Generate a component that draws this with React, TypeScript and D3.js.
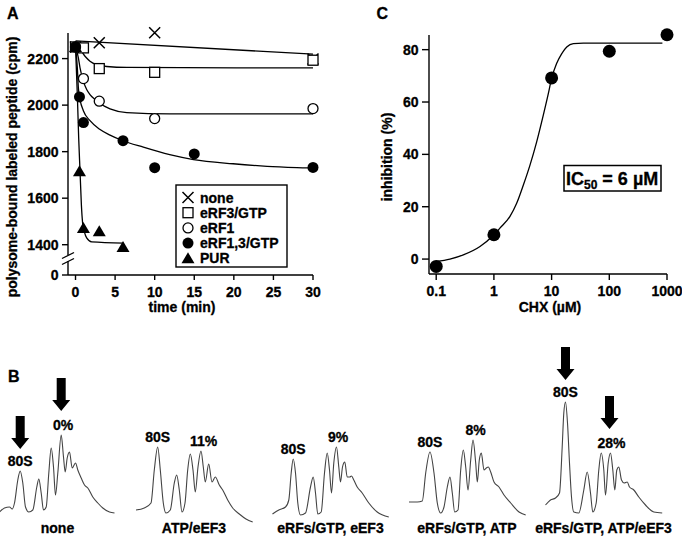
import React from 'react';
import * as d3 from 'd3';

const FONT = '"Liberation Sans", Arial, Helvetica, sans-serif';

// ---------- panel A : polysome-bound labeled peptide vs time ----------
const seriesNames = ['none', 'eRF3/GTP', 'eRF1', 'eRF1,3/GTP', 'PUR'];
const seriesMarks = ['cross', 'square', 'circle', 'dot', 'triangle'];

const ptsNone = [[0, 2250], [3, 2268], [10, 2311], [30, 2198]];
const ptsErf3 = [[0, 2250], [1, 2246], [3, 2157], [10, 2141], [30, 2193]];
const ptsErf1 = [[0, 2250], [1, 2114], [3, 2017], [10, 1942], [30, 1985]];
const ptsErf13 = [[0, 2250], [0.5, 2035], [1, 1925], [6, 1847], [10, 1731], [15, 1790], [30, 1732]];
const ptsPur = [[0, 2250], [0.5, 1716], [1, 1472], [3, 1458], [6, 1390]];

// fitted curves
const fitNone = [[0, 2276], [30, 2219]];
const fitErf3 = [[0, 2252], [0.57, 2239], [1.2, 2210], [1.83, 2189], [2.67, 2174], [3.94, 2166], [6.5, 2162], [30, 2160]];
const fitErf1 = [[0, 2252], [0.36, 2203], [0.57, 2160], [0.99, 2103], [1.41, 2067], [1.83, 2045], [2.46, 2024], [3, 2009], [4.36, 1984], [6.47, 1968], [11.9, 1962], [30, 1962]];
const fitErf13 = [[0, 2252], [0.23, 2160], [0.36, 2074], [0.57, 2024], [0.99, 1976], [1.83, 1933], [3.1, 1895], [4.36, 1871], [5.83, 1849], [8.57, 1819], [11.9, 1787], [14.9, 1766], [19.9, 1748], [24.2, 1737], [29.2, 1730], [30, 1729]];
const fitPur = [[0, 2252], [0.23, 2045], [0.4, 1859], [0.57, 1716], [0.74, 1572], [0.9, 1493], [1.12, 1455], [1.41, 1429], [2.04, 1412], [6.04, 1407]];

const seriesPoints = [ptsNone, ptsErf3, ptsErf1, ptsErf13, ptsPur];
const seriesFits = [fitNone, fitErf3, fitErf1, fitErf13, fitPur];

const timeTicks = [0, 5, 10, 15, 20, 25, 30];
const cpmTicks = [0, 1400, 1600, 1800, 2000, 2200];

// ---------- panel C : inhibition vs CHX ----------
const chxConc = [0.1, 1, 10, 100, 1000];
const chxInhibition = [-2.8, 9.3, 69.2, 79.4, 85.7];
const chxFit = [[0.1, -0.9], [0.173, 0], [0.295, 1.6], [0.574, 4.8], [1, 9.3], [1.27, 11.8], [1.9, 16.3], [2.48, 21.3], [3.24, 28.3], [4.22, 35.9], [5.51, 44.8], [7.18, 55], [8.77, 63.2], [10, 69], [12.2, 74.7], [15, 78.5], [18.3, 81], [23.8, 82.3], [35.5, 82.5], [832, 82.5]];
const chxTicks = [0.1, 1, 10, 100, 1000];
const inhibTicks = [0, 20, 40, 60, 80];

// ---------- panel B : polysome profiles (position along gradient, A254 a.u.) ----------
const profileNames = ['none', 'ATP/eEF3', 'eRFs/GTP, eEF3', 'eRFs/GTP, ATP', 'eRFs/GTP, ATP/eEF3'];
const profNone = [[0, 0.05], [5, 0.09], [10, 0.1], [12.7, 0.08], [15, 0.14], [18.3, 0.37], [20.7, 0.46], [23.3, 0.34], [26, 0.1], [29.3, 0.05], [33.3, 0.07], [37.3, 0.3], [39.3, 0.38], [41.7, 0.24], [44, 0.07], [46.7, 0.1], [49.3, 0.44], [51.7, 0.69], [54, 0.5], [56, 0.22], [58.3, 0.44], [61.7, 0.82], [64, 0.6], [65.7, 0.45], [67.7, 0.59], [70, 0.65], [72.7, 0.49], [76, 0.54], [78.3, 0.47], [81.7, 0.39], [85, 0.32], [88.3, 0.29], [93.3, 0.2], [98.3, 0.14], [103.3, 0.09], [110, 0.05], [115, 0.04]];
const profAtpEef3 = [[0, 0.07], [8.3, 0.09], [15, 0.14], [18.3, 0.47], [21.7, 0.7], [24.3, 0.47], [27.3, 0.14], [30, 0.04], [34.3, 0.07], [38.3, 0.34], [40.7, 0.42], [43.3, 0.27], [46, 0.05], [49, 0.14], [51.7, 0.47], [54.3, 0.63], [57, 0.47], [59.3, 0.25], [62, 0.5], [65, 0.66], [67.3, 0.5], [69.3, 0.35], [72.7, 0.53], [76, 0.35], [79.3, 0.4], [83.3, 0.32], [86.7, 0.27], [91.7, 0.17], [96.7, 0.09], [103.3, 0.03], [110, -0.02], [116.7, -0.05]];
const profErfEef3 = [[0, 0.03], [6.3, 0.07], [13, 0.1], [16.3, 0.17], [18.7, 0.44], [20.7, 0.58], [23, 0.44], [25.3, 0.14], [28, 0.02], [33, 0.04], [38, 0.3], [40.7, 0.4], [43, 0.24], [45.3, 0.03], [48.7, 0.05], [52, 0.44], [54.7, 0.64], [57, 0.47], [59, 0.24], [61.3, 0.54], [64, 0.7], [66.3, 0.5], [68, 0.35], [70, 0.5], [72.3, 0.55], [74.7, 0.4], [77.3, 0.4], [79, 0.41], [81.3, 0.37], [84.7, 0.3], [89.7, 0.24], [96.3, 0.14], [104.7, 0.05], [116.3, 0]];
const profErfAtp = [[0, 0.15], [8.3, 0.15], [13.3, 0.16], [16.7, 0.44], [21, 0.65], [25, 0.44], [28.3, 0.14], [31.7, 0.04], [35, 0.1], [38.3, 0.3], [41, 0.4], [43.3, 0.24], [45.7, 0.05], [49, 0.07], [51.7, 0.47], [54.3, 0.67], [56.7, 0.5], [59, 0.27], [61.7, 0.57], [64, 0.77], [66.7, 0.54], [68.3, 0.35], [70.3, 0.57], [72.3, 0.64], [75, 0.47], [77.3, 0.49], [79.3, 0.5], [81.7, 0.45], [85, 0.35], [90, 0.3], [95, 0.22], [101.7, 0.14], [110, 0.05], [116.7, 0.02]];
const profErfAtpEef3 = [[0, 0.12], [5, 0.17], [10, 0.19], [14, 0.24], [16.7, 0.7], [18.3, 1.04], [20, 1.15], [22, 0.94], [24, 0.54], [26, 0.2], [28.3, 0.05], [33.3, 0.04], [38.3, 0.27], [41.7, 0.45], [45, 0.24], [47.3, 0.05], [50.7, 0.14], [53.3, 0.47], [55.7, 0.64], [58.3, 0.47], [60, 0.22], [62.7, 0.54], [65, 0.64], [67.3, 0.47], [69.3, 0.27], [71.3, 0.47], [73.3, 0.5], [76, 0.37], [78.7, 0.34], [81.7, 0.35], [84, 0.3], [88.3, 0.27], [93.3, 0.2], [100, 0.12], [108.3, 0.05], [116.7, 0.04]];
const profiles = [profNone, profAtpEef3, profErfEef3, profErfAtp, profErfAtpEef3];
const pctLabels = ['0%', '11%', '9%', '8%', '28%'];
const pctPos = [63.7, 67.5, 65.5, 66.5, 66];
const arrowed = [true, false, false, false, true];

function Marker({ kind, x, y }: { kind: string; x: number; y: number }) {
  if (kind === 'cross')
    return <path d={`M${x - 5.5},${y - 5.5}L${x + 5.5},${y + 5.5}M${x - 5.5},${y + 5.5}L${x + 5.5},${y - 5.5}`} stroke="#000" strokeWidth={1.5} />;
  if (kind === 'square')
    return <rect x={x - 5} y={y - 5} width={10} height={10} fill="#fff" stroke="#000" strokeWidth={1.3} />;
  if (kind === 'circle')
    return <circle cx={x} cy={y} r={5} fill="#fff" stroke="#000" strokeWidth={1.3} />;
  if (kind === 'dot')
    return <circle cx={x} cy={y} r={5.5} fill="#000" />;
  return <path d={`M${x},${y - 6}L${x + 6.5},${y + 5}L${x - 6.5},${y + 5}Z`} fill="#000" />;
}

function Arrow({ x, tip }: { x: number; tip: number }) {
  const top = tip - 33;
  const neck = tip - 11;
  return (
    <path
      d={`M${x - 4.5},${top}L${x + 4.5},${top}L${x + 4.5},${neck}L${x + 9},${neck}L${x},${tip}L${x - 9},${neck}L${x - 4.5},${neck}Z`}
      fill="#000"
    />
  );
}

function PanelA() {
  const x = d3.scaleLinear().domain([-1, 30]).range([67.6, 313]);
  const y = d3.scaleLinear().domain([0, 1330, 2310]).range([275, 261, 33]);
  const line = d3.line<number[]>().x((d) => x(d[0])).y((d) => y(d[1])).curve(d3.curveMonotoneX);
  const axX = 68;
  const yBreak = y(1345);
  return (
    <g>
      <text x={7} y={18.5} fontSize={16} fontWeight="bold">A</text>
      {/* axes */}
      <line x1={axX} x2={axX} y1={33} y2={yBreak - 2.5} stroke="#000" strokeWidth={1.4} />
      <line x1={axX} x2={axX} y1={yBreak + 3.5} y2={275} stroke="#000" strokeWidth={1.4} />
      <line x1={62} x2={74} y1={yBreak + 1} y2={yBreak - 5} stroke="#000" strokeWidth={1.3} />
      <line x1={62} x2={74} y1={yBreak + 7} y2={yBreak + 1} stroke="#000" strokeWidth={1.3} />
      <line x1={axX} x2={x(30)} y1={275} y2={275} stroke="#000" strokeWidth={1.4} />
      {cpmTicks.map((t) => (
        <g key={t}>
          <line x1={62} x2={axX} y1={y(t)} y2={y(t)} stroke="#000" strokeWidth={1.4} />
          <text x={58.5} y={y(t) + 5} textAnchor="end" fontSize={14} fontWeight="bold">{t}</text>
        </g>
      ))}
      {timeTicks.map((t) => (
        <g key={t}>
          <line x1={x(t)} x2={x(t)} y1={275} y2={280} stroke="#000" strokeWidth={1.4} />
          <text x={x(t)} y={296.5} textAnchor="middle" fontSize={14} fontWeight="bold">{t}</text>
        </g>
      ))}
      <text x={182} y={312} textAnchor="middle" fontSize={14} fontWeight="bold">time (min)</text>
      <text transform="translate(17,167) rotate(-90)" textAnchor="middle" fontSize={14} fontWeight="bold">
        polysome-bound labeled peptide (cpm)
      </text>
      {/* fits */}
      {seriesFits.map((f, i) => (
        <path key={i} d={line(f) || ''} fill="none" stroke="#000" strokeWidth={1.3} />
      ))}
      {/* points */}
      {seriesPoints.map((pts, i) =>
        pts.map((p, j) => <Marker key={`${i}-${j}`} kind={seriesMarks[i]} x={x(p[0])} y={y(p[1])} />)
      )}
      {/* legend */}
      <rect x={176} y={185} width={111} height={82} fill="#fff" stroke="#000" strokeWidth={1.4} />
      {seriesNames.map((n, i) => (
        <g key={n}>
          <Marker kind={seriesMarks[i]} x={188} y={197.5 + i * 15.2} />
          <text x={200} y={202.5 + i * 15.2} fontSize={14} fontWeight="bold">{n}</text>
        </g>
      ))}
    </g>
  );
}

function PanelC() {
  const x = d3.scaleLog().domain([0.075, 1000]).range([429, 667]);
  const y = d3.scaleLinear().domain([-5.7, 85.6]).range([274, 35]);
  const line = d3.line<number[]>().x((d) => x(d[0])).y((d) => y(d[1])).curve(d3.curveMonotoneX);
  return (
    <g>
      <text x={376.5} y={18.5} fontSize={16} fontWeight="bold">C</text>
      <line x1={429} x2={429} y1={35} y2={274} stroke="#000" strokeWidth={1.4} />
      <line x1={429} x2={667} y1={274} y2={274} stroke="#000" strokeWidth={1.4} />
      {inhibTicks.map((t) => (
        <g key={t}>
          <line x1={422} x2={429} y1={y(t)} y2={y(t)} stroke="#000" strokeWidth={1.4} />
          <text x={418.5} y={y(t) + 5} textAnchor="end" fontSize={14} fontWeight="bold">{t}</text>
        </g>
      ))}
      {chxTicks.map((t) => (
        <g key={t}>
          <line x1={x(t)} x2={x(t)} y1={274} y2={280} stroke="#000" strokeWidth={1.4} />
          <text x={x(t)} y={296} textAnchor="middle" fontSize={14} fontWeight="bold">{t}</text>
        </g>
      ))}
      <text x={550} y={312} textAnchor="middle" fontSize={14} fontWeight="bold">CHX (µM)</text>
      <text transform="translate(392,157) rotate(-90)" textAnchor="middle" fontSize={14} fontWeight="bold">
        inhibition (%)
      </text>
      <path d={line(chxFit) || ''} fill="none" stroke="#000" strokeWidth={1.3} />
      {chxConc.map((c, i) => (
        <circle key={c} cx={x(c)} cy={y(chxInhibition[i])} r={6.5} fill="#000" />
      ))}
      <rect x={564} y={165.5} width={97} height={25.5} fill="#fff" stroke="#000" strokeWidth={1.5} />
      <text x={566} y={184.5} fontSize={18} fontWeight="bold">
        IC<tspan fontSize={12} dy={4}>50</tspan>
        <tspan dy={-4}> = 6 µM</tspan>
      </text>
    </g>
  );
}

function PanelB() {
  const band = d3.scaleBand().domain(profileNames).range([-0.5, 682]);
  const y = d3.scaleLinear().domain([0, 1]).range([517, 417]);
  return (
    <g>
      <text x={8} y={381.5} fontSize={16} fontWeight="bold">B</text>
      {profiles.map((prof, i) => {
        const x0 = band(profileNames[i]) || 0;
        const x = d3.scaleLinear().domain([0, 116]).range([x0, x0 + 116]);
        const line = d3.line<number[]>().x((d) => x(d[0])).y((d) => y(d[1])).curve(d3.curveMonotoneX);
        const early = prof.filter((d) => d[0] < 30);
        const peak80 = early[d3.maxIndex(early, (d) => d[1])];
        const pctMax = d3.max(prof.filter((d) => Math.abs(d[0] - pctPos[i]) <= 4), (d) => d[1]) || 0;
        const sY = y(peak80[1]) - 5;
        const pY = y(pctMax) - 5;
        return (
          <g key={i}>
            <path d={line(prof) || ''} fill="none" stroke="#444" strokeWidth={1.1} />
            <text x={x(peak80[0])} y={sY} textAnchor="middle" fontSize={14} fontWeight="bold">80S</text>
            <text x={x(pctPos[i])} y={pY} textAnchor="middle" fontSize={14} fontWeight="bold">{pctLabels[i]}</text>
            {arrowed[i] && <Arrow x={x(peak80[0])} tip={sY - 17} />}
            {arrowed[i] && <Arrow x={x(pctPos[i]) - 2} tip={pY - 19} />}
            <text x={x0 + 58} y={533} textAnchor="middle" fontSize={14} fontWeight="bold">{profileNames[i]}</text>
          </g>
        );
      })}
    </g>
  );
}

export default function App() {
  return (
    <svg
      width={682}
      height={536}
      style={{ position: 'absolute', left: 0, top: 0, background: '#fff', fontFamily: FONT }}
    >
      <style>{'text { stroke: #000; stroke-width: 0.3px; }'}</style>
      <rect width={682} height={536} fill="#fff" />
      <PanelA />
      <PanelC />
      <PanelB />
    </svg>
  );
}
